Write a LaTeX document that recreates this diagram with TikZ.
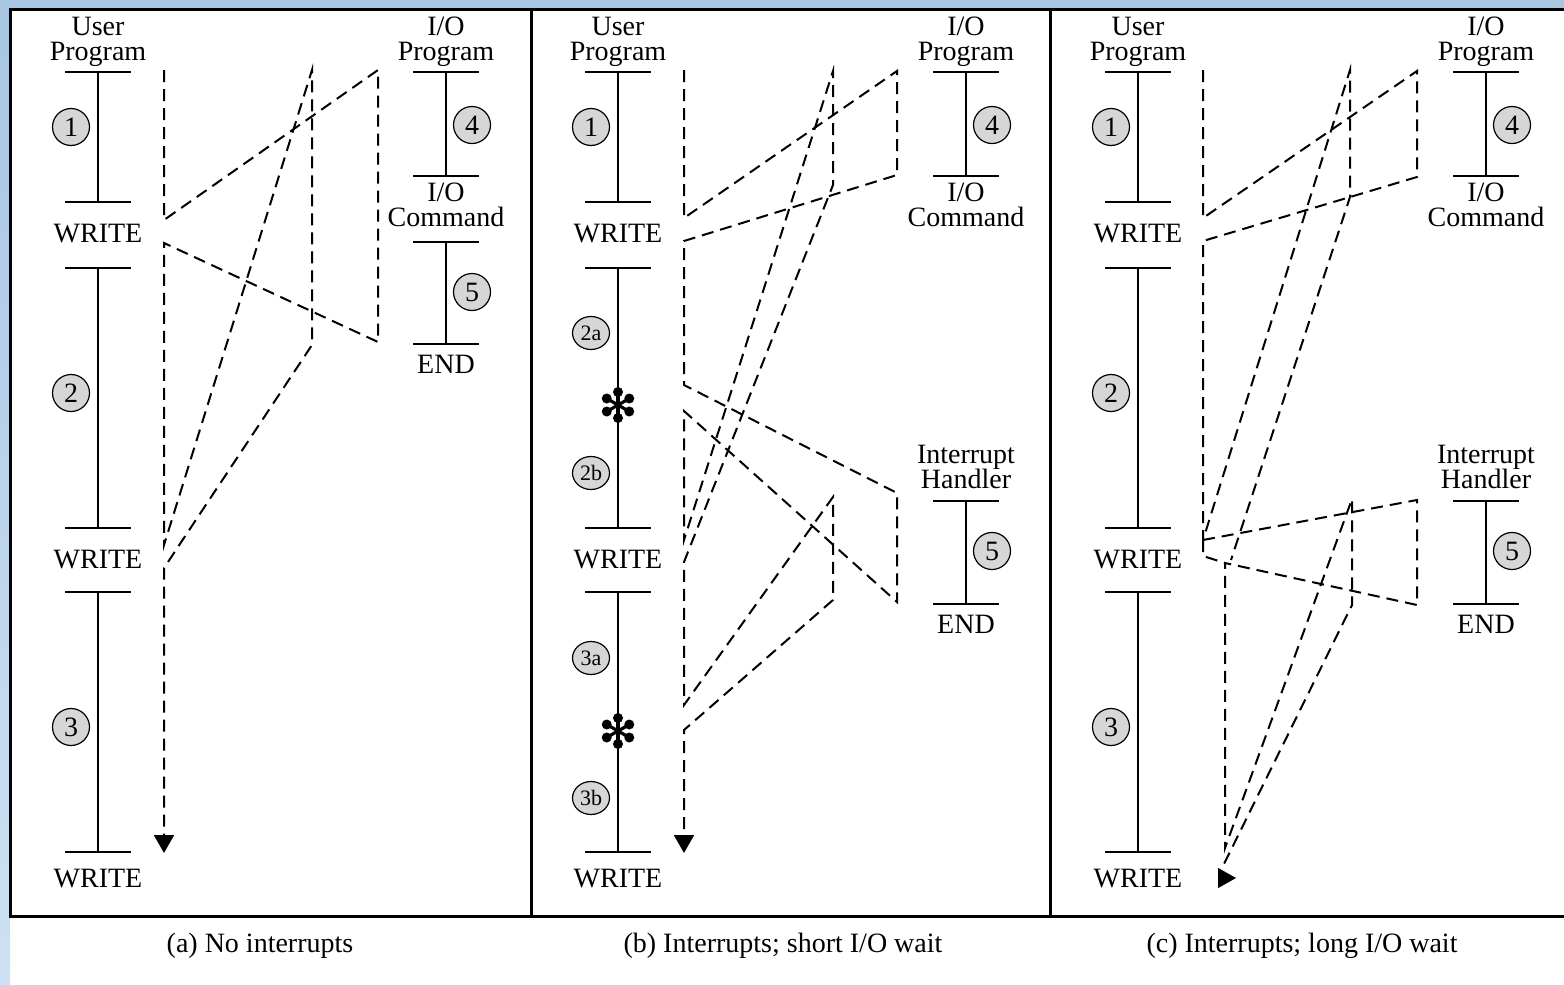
\documentclass[tikz,border=0pt]{standalone}
\usepackage{fontspec}
\setmainfont{Liberation Serif}
\usetikzlibrary{arrows.meta,shapes.geometric}
\definecolor{edgeblue}{RGB}{168,197,226}
\definecolor{paleblue}{RGB}{206,225,243}
\definecolor{stepfill}{RGB}{214,214,214}
\tikzset{
 lbl/.style={font={\fontsize{14}{12.5}\selectfont\lineskiplimit=-10pt},align=center,inner sep=0pt},
 bar/.style={line width=1.1pt},
 frame/.style={line width=1.5pt},
 flow/.style={line width=1pt,dash pattern=on 6pt off 3.5pt},
 tip/.style={-{Triangle[width=10pt,length=9pt]}},
 stepno/.style={circle,draw,line width=0.6pt,fill=stepfill,minimum size=18.5pt,inner sep=0pt,font=\fontsize{14}{14}\selectfont},
 substep/.style={ellipse,draw,line width=0.6pt,fill=stepfill,minimum width=18.5pt,minimum height=16.5pt,inner sep=0pt,font=\fontsize{11}{11}\selectfont}
}

\begin{document}
\begin{tikzpicture}[x=0.5pt,y=-0.5pt]
\useasboundingbox (0,0) rectangle (1564,985);
\fill[top color=edgeblue,bottom color=paleblue] (0,0) rectangle (10,985);
\fill[edgeblue] (0,0) rectangle (1564,8);
% frame and panel dividers
\draw[frame] (1566,9) -- (10,9) -- (10,916) -- (1566,916);
\draw[frame] (531,9) -- (531,916) (1050,9) -- (1050,916);

% parts shared by the three panels
\foreach \ox/\p in {0/a,520/b,1040/c} {
 \node[lbl] (user\p) at (98+\ox,42) {User\\Program};
 \node[lbl] (iop\p) at (446+\ox,42) {I/O\\Program};
 \node[lbl] (ioc\p) at (446+\ox,205) {I/O\\Command};
 \foreach \y/\n in {234/1,560/2,879/3}
  \node[lbl] (wr\p\n) at (98+\ox,\y) {WRITE};
 \foreach \t/\b in {72/202,268/528,592/852}
  \draw[bar] (65+\ox,\t) -- (131+\ox,\t) (98+\ox,\t) -- (98+\ox,\b) (65+\ox,\b) -- (131+\ox,\b);
 \draw[bar] (413+\ox,72) -- (479+\ox,72) (446+\ox,72) -- (446+\ox,176) (413+\ox,176) -- (479+\ox,176);
 \node[stepno] (four\p) at (472+\ox,125) {4};
}
\foreach \ox/\p in {520/b,1040/c} {
 \node[lbl] (ih\p) at (446+\ox,467) {Interrupt\\Handler};
 \draw[bar] (413+\ox,501) -- (479+\ox,501) (446+\ox,501) -- (446+\ox,604) (413+\ox,604) -- (479+\ox,604);
 \node[lbl] (end\p) at (446+\ox,624) {END};
 \node[stepno] (five\p) at (472+\ox,551) {5};
}

% (a) I/O program tail
\draw[bar] (413,242) -- (479,242) (446,242) -- (446,344) (413,344) -- (479,344);
\node[lbl] (enda) at (446,364) {END};
\node[stepno] (fivea) at (472,292) {5};
\foreach \ox/\p in {0/a,1040/c} {
 \node[stepno] (one\p) at (71+\ox,127) {1};
 \node[stepno] (two\p) at (71+\ox,393) {2};
 \node[stepno] (three\p) at (71+\ox,727) {3};
}
% (b) split user segments
\node[stepno] (oneb) at (591,127) {1};
\foreach \y/\s in {333/2a,473/2b,658/3a,798/3b}
 \node[substep] (s\s) at (591,\y) {\s};
\foreach \y in {405,731}
 \foreach \a in {30,90,...,330} {
  \draw[line width=1.6pt] (618,\y) -- ++(\a:6pt);
  \fill (618,\y) ++(\a:6.5pt) circle (2.5pt);
 }

% captions
\node[lbl] (capa) at (260,946) {(a) No interrupts};
\node[lbl] (capb) at (783,946) {(b) Interrupts; short I/O wait};
\node[lbl] (capc) at (1302,946) {(c) Interrupts; long I/O wait};

% flow of control (a)
\path (164,70) coordinate (a0) (164,220) coordinate (a1) (378,70) coordinate (a2)
 (378,342) coordinate (a3) (164,243) coordinate (a4) (164,545) coordinate (a5)
 (312,70) coordinate (a6) (312,345) coordinate (a7) (164,568) coordinate (a8)
 (164,853) coordinate (a9);
\draw[flow,tip] (a0) \foreach \i in {1,...,9} { -- (a\i) };

% flow of control (b)
\path (684,70) coordinate (b0) (684,218) coordinate (b1) (897,71) coordinate (b2)
 (897,175) coordinate (b3) (684,241) coordinate (b4) (684,385) coordinate (b5)
 (897,493) coordinate (b6) (897,602) coordinate (b7) (684,411) coordinate (b8)
 (684,540) coordinate (b9) (833,71) coordinate (b10) (833,185) coordinate (b11)
 (684,562) coordinate (b12) (684,705) coordinate (b13) (833,497) coordinate (b14)
 (833,600) coordinate (b15) (684,730) coordinate (b16) (684,853) coordinate (b17);
\draw[flow,tip] (b0) \foreach \i in {1,...,17} { -- (b\i) };

% flow of control (c)
\path (1203,70) coordinate (c0) (1203,218) coordinate (c1) (1417,71) coordinate (c2)
 (1417,177) coordinate (c3) (1203,241) coordinate (c4) (1203,540) coordinate (c5)
 (1350,70) coordinate (c6) (1350,197) coordinate (c7) (1231,560) coordinate (c8)
 (1417,500) coordinate (c9) (1417,605) coordinate (c10) (1225,563) coordinate (c11)
 (1225,848) coordinate (c12) (1352,499) coordinate (c13) (1352,605) coordinate (c14)
 (1222,868) coordinate (c15) (1203,556) coordinate (c16)
 (1218,878) coordinate (c17) (1236,878) coordinate (c18);
\draw[flow] (c0) \foreach \i in {1,...,8} { -- (c\i) };
\draw[flow] (c5) \foreach \i in {9,...,15} { -- (c\i) };
\draw[flow] (c5) -- (c16) -- (c11);
\draw[tip] (c17) -- (c18);
\end{tikzpicture}
\end{document}
